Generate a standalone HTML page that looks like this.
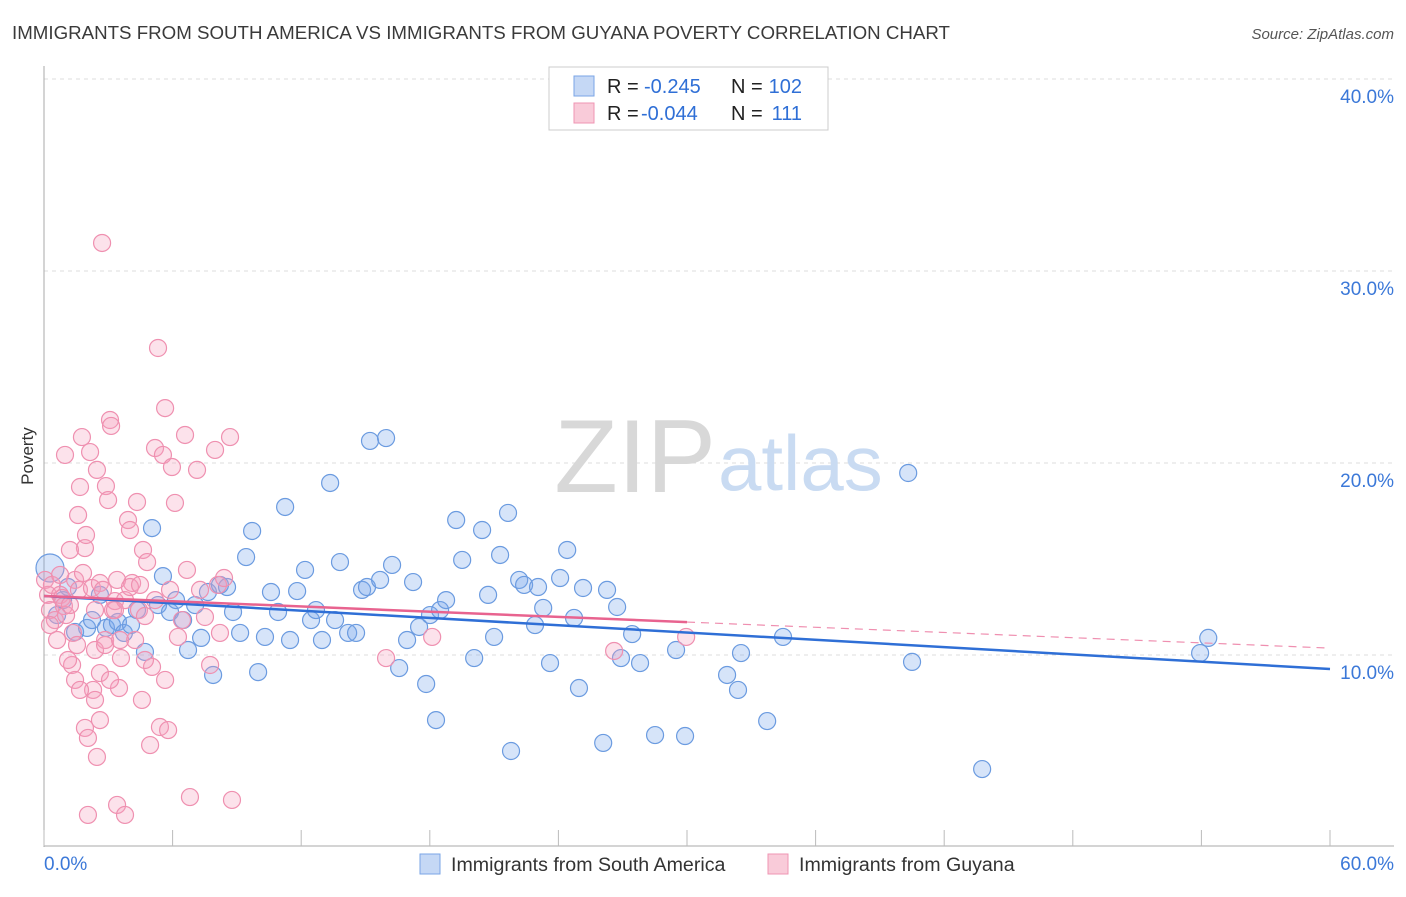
<!DOCTYPE html>
<html><head><meta charset="utf-8"><style>
body{margin:0;background:#fff;font-family:"Liberation Sans",sans-serif}
svg text{font-family:"Liberation Sans",sans-serif}
</style></head><body>
<svg id="chart" width="1406" height="892">
<text x="12" y="39" font-size="18" fill="#3a3a3a" textLength="938" lengthAdjust="spacingAndGlyphs">IMMIGRANTS FROM SOUTH AMERICA VS IMMIGRANTS FROM GUYANA POVERTY CORRELATION CHART</text>
<text x="1394" y="39" font-size="15" fill="#555" text-anchor="end" font-style="italic">Source: ZipAtlas.com</text>
<text x="33" y="456" font-size="17" fill="#333" transform="rotate(-90 33 456)" text-anchor="middle">Poverty</text>
<g id="grid"></g>
<text x="716" y="492" font-size="104" fill="#d8d8d8" text-anchor="end" font-family="Liberation Serif">ZIP</text>
<text x="718" y="490" font-size="78" fill="#c9dbf2">atlas</text>
<g id="axes"></g>
<g id="pts"></g>
<g id="lines"></g>
<g>
<rect x="549" y="67" width="279" height="63" fill="#fff" stroke="#ccc"/>
<rect x="574" y="76" width="20" height="20" fill="#c5d8f5" stroke="#7aa5e6"/>
<rect x="574" y="103" width="20" height="20" fill="#f9cbd9" stroke="#ef95b3"/>
<text x="607" y="93" font-size="20" fill="#222">R =</text>
<text x="644" y="93" font-size="20" fill="#2f6fd6">-0.245</text>
<text x="731" y="93" font-size="20" fill="#222">N =</text>
<text x="802" y="93" font-size="20" fill="#2f6fd6" text-anchor="end">102</text>
<text x="607" y="120" font-size="20" fill="#222">R =</text>
<text x="641" y="120" font-size="20" fill="#2f6fd6">-0.044</text>
<text x="731" y="120" font-size="20" fill="#222">N =</text>
<text x="802" y="120" font-size="20" fill="#2f6fd6" text-anchor="end">111</text>
</g>
<g>
<rect x="420" y="854" width="20" height="20" fill="#c5d8f5" stroke="#7aa5e6"/>
<text x="451" y="871" font-size="19.6" fill="#333">Immigrants from South America</text>
<rect x="768" y="854" width="20" height="20" fill="#f9cbd9" stroke="#ef95b3"/>
<text x="799" y="871" font-size="19.6" fill="#333">Immigrants from Guyana</text>
</g>
</svg>
<script>
const yTicks=[10,20,30,40];
const xTickLabels=["0.0%","60.0%"];
const blueX=[0.28,0.61,0.89,1.12,1.45,2.01,2.24,2.61,2.89,3.17,3.45,3.73,4.06,4.34,4.71,5.04,5.32,5.55,5.88,6.16,6.49,6.72,7.05,7.33,7.65,7.89,8.21,8.54,8.82,9.15,9.43,9.71,9.99,10.31,10.59,10.92,11.25,11.48,11.81,12.18,12.46,12.69,12.97,13.35,13.58,13.81,14.19,14.56,14.84,15.07,15.21,15.68,15.96,16.24,16.57,16.94,17.22,17.50,17.83,18.01,18.29,18.48,18.76,19.23,19.51,20.07,20.44,20.72,21.00,21.28,21.65,21.79,22.17,22.40,22.91,23.05,23.29,23.61,24.08,24.41,24.73,24.96,25.15,26.09,26.27,26.74,26.92,27.44,27.81,28.51,29.49,29.91,31.87,32.38,32.52,33.74,34.48,40.32,40.50,43.77,53.94,54.32];
const blueY=[14.53,12.08,12.86,13.54,11.20,11.41,11.82,13.13,11.41,11.56,11.72,11.15,11.56,12.34,10.16,16.61,12.60,14.11,12.24,12.86,11.82,10.26,12.60,10.89,13.28,8.96,13.65,13.54,12.24,11.15,15.10,16.46,9.11,10.94,13.28,12.24,17.71,10.78,13.33,14.43,11.82,12.34,10.78,18.96,11.82,14.84,11.15,11.15,13.39,13.54,21.15,13.91,21.30,14.69,9.32,10.78,13.80,11.46,8.49,12.08,6.61,12.34,12.86,17.03,14.95,9.84,16.51,13.13,10.94,15.21,17.40,5.00,13.91,13.65,11.56,13.54,12.45,9.58,14.01,15.47,11.93,8.28,13.49,5.42,13.39,12.50,9.84,11.09,9.58,5.83,10.26,5.78,8.96,8.18,10.10,6.56,10.94,19.48,9.64,4.06,10.10,10.89];
const pinkX=[0.05,0.19,0.28,0.37,0.51,0.61,0.75,0.84,0.93,1.03,1.21,1.35,1.45,1.54,1.63,1.68,1.77,1.82,1.91,1.96,2.15,2.24,2.29,2.38,2.47,2.61,2.71,2.75,2.85,2.89,2.99,3.08,3.13,3.22,3.31,3.41,3.50,3.59,3.78,3.92,4.01,4.11,4.25,4.34,4.43,4.57,4.62,4.71,4.81,4.95,5.04,5.18,5.32,5.41,5.55,5.65,5.79,5.88,5.97,6.11,6.25,6.44,6.58,6.67,6.81,7.14,7.28,7.51,7.75,7.98,8.12,8.21,8.40,8.68,8.77,15.96,18.11,26.60,29.96,2.05,2.38,2.47,2.61,1.91,2.05,2.61,3.08,3.41,3.78,1.31,1.45,1.12,1.68,4.01,4.71,5.18,4.48,0.75,0.28,2.38,2.85,1.21,0.98,1.59,3.31,3.55,5.65];
const pinkY=[13.91,13.13,12.34,13.65,11.82,10.78,13.13,12.97,12.55,12.08,12.60,11.15,13.91,10.52,13.39,18.75,21.35,14.27,15.57,16.25,20.57,13.49,8.18,12.34,19.64,13.75,31.46,13.39,10.78,18.80,18.07,22.24,21.93,12.34,12.81,13.91,8.28,9.84,12.86,17.03,16.51,13.75,10.78,17.97,12.34,7.66,15.47,12.03,14.84,5.31,9.38,20.78,25.99,6.25,20.42,22.86,6.09,13.39,19.79,17.92,10.94,11.82,21.46,14.43,2.60,19.64,13.39,11.98,9.48,20.68,13.65,11.15,14.01,21.35,2.45,9.84,10.94,10.21,10.94,1.67,7.66,4.69,6.61,6.20,5.68,9.06,8.70,2.19,1.67,9.48,8.70,9.74,8.18,13.54,9.74,12.86,13.65,14.17,11.56,10.26,10.52,15.47,20.42,17.29,12.34,10.78,8.70];
const blueTrend=[13.07,9.27];
const pinkTrend=[13.07,10.36];
const pinkSolidEnd=30;

const NS="http://www.w3.org/2000/svg";
const X0=44,X1=1330,Y0=847,YPER=19.2;
const sx=v=>X0+(X1-X0)*v/60;
const sy=v=>Y0-v*YPER;
function mk(tag,attrs,parent){const e=document.createElementNS(NS,tag);for(const k in attrs)e.setAttribute(k,attrs[k]);parent.appendChild(e);return e;}
const grid=document.getElementById('grid'),axes=document.getElementById('axes'),pts=document.getElementById('pts'),lines=document.getElementById('lines');
yTicks.forEach(t=>{
 const l=mk('line',{x1:44,x2:1394,y1:sy(t),y2:sy(t),stroke:'#ddd','stroke-dasharray':'4,4'},grid);
 
 
 const tx=mk('text',{x:1394,y:sy(t)+24,'font-size':19,fill:'#3b78d8','text-anchor':'end'},grid);
 tx.textContent=t.toFixed(1)+'%';
 
 
});
const ax=mk('line',{x1:44,x2:44,y1:66,y2:847,stroke:'#aaa'},axes);


const bx=mk('line',{x1:44,x2:1394,y1:846,y2:846,stroke:'#aaa'},axes);


for(let i=0;i<=10;i++){
 const t=mk('line',{x1:sx(i*6),x2:sx(i*6),y1:830,y2:846,stroke:'#bbb'},axes);
 
 
}
const xl0=mk('text',{x:44,y:870,'font-size':19,fill:'#3b78d8'},axes);xl0.textContent=xTickLabels[0];


const xl1=mk('text',{x:1394,y:870,'font-size':19,fill:'#3b78d8','text-anchor':'end'},axes);xl1.textContent=xTickLabels[1];


blueX.forEach((x,i)=>{
 const c=mk('circle',{cx:sx(x),cy:sy(blueY[i]),r:i===0?14:8.5,fill:'rgba(120,165,235,0.3)',stroke:'#6b9be0','stroke-width':1.2},pts);
 
 
});
pinkX.forEach((x,i)=>{
 const c=mk('circle',{cx:sx(x),cy:sy(pinkY[i]),r:8.5,fill:'rgba(245,160,190,0.3)',stroke:'#ef90b0','stroke-width':1.2},pts);
 
 
});
const bt=mk('line',{x1:sx(0),y1:sy(blueTrend[0]),x2:sx(60),y2:sy(blueTrend[1]),stroke:'#2f6fd6','stroke-width':2.5},lines);


const pm=y=>pinkTrend[0]+(pinkTrend[1]-pinkTrend[0])*y/60;
const pd=mk('line',{x1:sx(pinkSolidEnd),y1:sy(pm(pinkSolidEnd)),x2:sx(60),y2:sy(pinkTrend[1]),stroke:'#ef8fb0','stroke-width':1.2,'stroke-dasharray':'8,6'},lines);


const pt=mk('line',{x1:sx(0),y1:sy(pinkTrend[0]),x2:sx(pinkSolidEnd),y2:sy(pm(pinkSolidEnd)),stroke:'#e8638f','stroke-width':2.5},lines);


</script>
</body></html>
